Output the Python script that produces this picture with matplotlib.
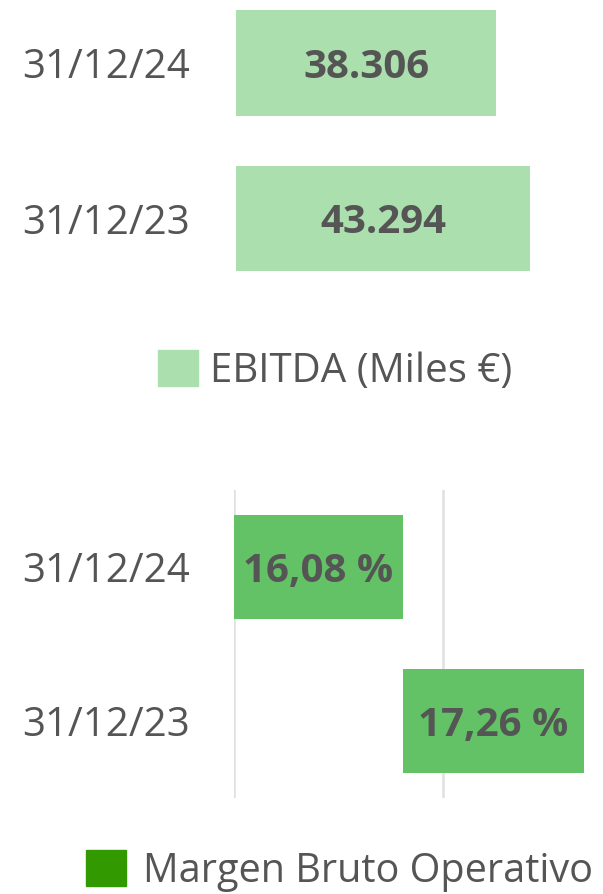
import matplotlib
matplotlib.use("Agg")
import matplotlib.pyplot as plt
from matplotlib.patches import Patch

# data
periods = ["31/12/24", "31/12/23"]
ebitda = [38306, 43294]
ebitda_labels = ["38.306", "43.294"]
margin = [16.08, 17.26]
margin_labels = ["16,08 %", "17,26 %"]
margin_base = 14.98
margin_grid = [14.98, 16.34]

TXT = "#555555"
C_EBITDA = "#abdfad"
C_MARGIN = "#62c265"
C_MARGIN_LEG = "#339900"

plt.rcParams["font.family"] = ["Open Sans", "DejaVu Sans"]
FS = 29

W, H = 603, 894
fig = plt.figure(figsize=(W / 100, H / 100), dpi=100)


def px_axes(x0, y0, x1, y1):
    # pixel box (top-left origin) -> figure axes
    return fig.add_axes([x0 / W, 1 - y1 / H, (x1 - x0) / W, (y1 - y0) / H])


# --- EBITDA
ax1 = px_axes(236, 0, 603, 296)
bars1 = ax1.barh(range(len(periods)), ebitda, height=0.68, color=C_EBITDA)
ax1.set_xlim(0, 54000)
ax1.set_ylim(1.5, -0.406)
for b, lab in zip(bars1, ebitda_labels):
    ax1.text(b.get_x() + b.get_width() / 2, b.get_y() + b.get_height() / 2, lab,
             ha="center", va="center_baseline", fontsize=FS, fontweight="bold", color=TXT)
ax1.set_yticks(range(len(periods)))
ax1.set_yticklabels(periods, fontsize=FS, color=TXT)
ax1.tick_params(axis="y", length=0, pad=33.5)
ax1.set_xticks([])
for s in ax1.spines.values():
    s.set_visible(False)

fig.legend(handles=[Patch(color=C_EBITDA, label="EBITDA (Miles €)")],
           loc="center left", bbox_to_anchor=(158 / W, 1 - 371 / H),
           frameon=False, fontsize=FS, labelcolor=TXT, borderpad=0, borderaxespad=0,
           handlelength=1.0, handleheight=1.0, handletextpad=0.3)

# --- Margen bruto operativo (floating bars)
ax2 = px_axes(234, 490, 603, 798)
lefts = [margin_base, margin[0]]
widths = [margin[0] - margin_base, margin[1] - margin[0]]
bars2 = ax2.barh(range(len(periods)), widths, left=lefts, height=0.68,
                 color=C_MARGIN, zorder=2)
ax2.set_xlim(margin_base, 17.385)
ax2.set_ylim(1.5, -0.5)
ax2.set_xticks(margin_grid)
ax2.xaxis.grid(True, color="#e0e0e0", lw=1.8, zorder=0)
ax2.tick_params(axis="x", length=0, labelbottom=False)
for b, lab in zip(bars2, margin_labels):
    ax2.text(b.get_x() + b.get_width() / 2, b.get_y() + b.get_height() / 2, lab,
             ha="center", va="center_baseline", fontsize=FS, fontweight="bold",
             color=TXT, zorder=3)
ax2.set_yticks(range(len(periods)))
ax2.set_yticklabels(periods, fontsize=FS, color=TXT)
ax2.tick_params(axis="y", length=0, pad=32)
for s in ax2.spines.values():
    s.set_visible(False)

fig.legend(handles=[Patch(color=C_MARGIN_LEG, label="Margen Bruto Operativo")],
           loc="center left", bbox_to_anchor=(86 / W, 1 - 871 / H),
           frameon=False, fontsize=28.5, labelcolor=TXT, borderpad=0, borderaxespad=0,
           handlelength=1.0, handleheight=1.0, handletextpad=0.45)

fig.savefig("out.png", dpi=100)
